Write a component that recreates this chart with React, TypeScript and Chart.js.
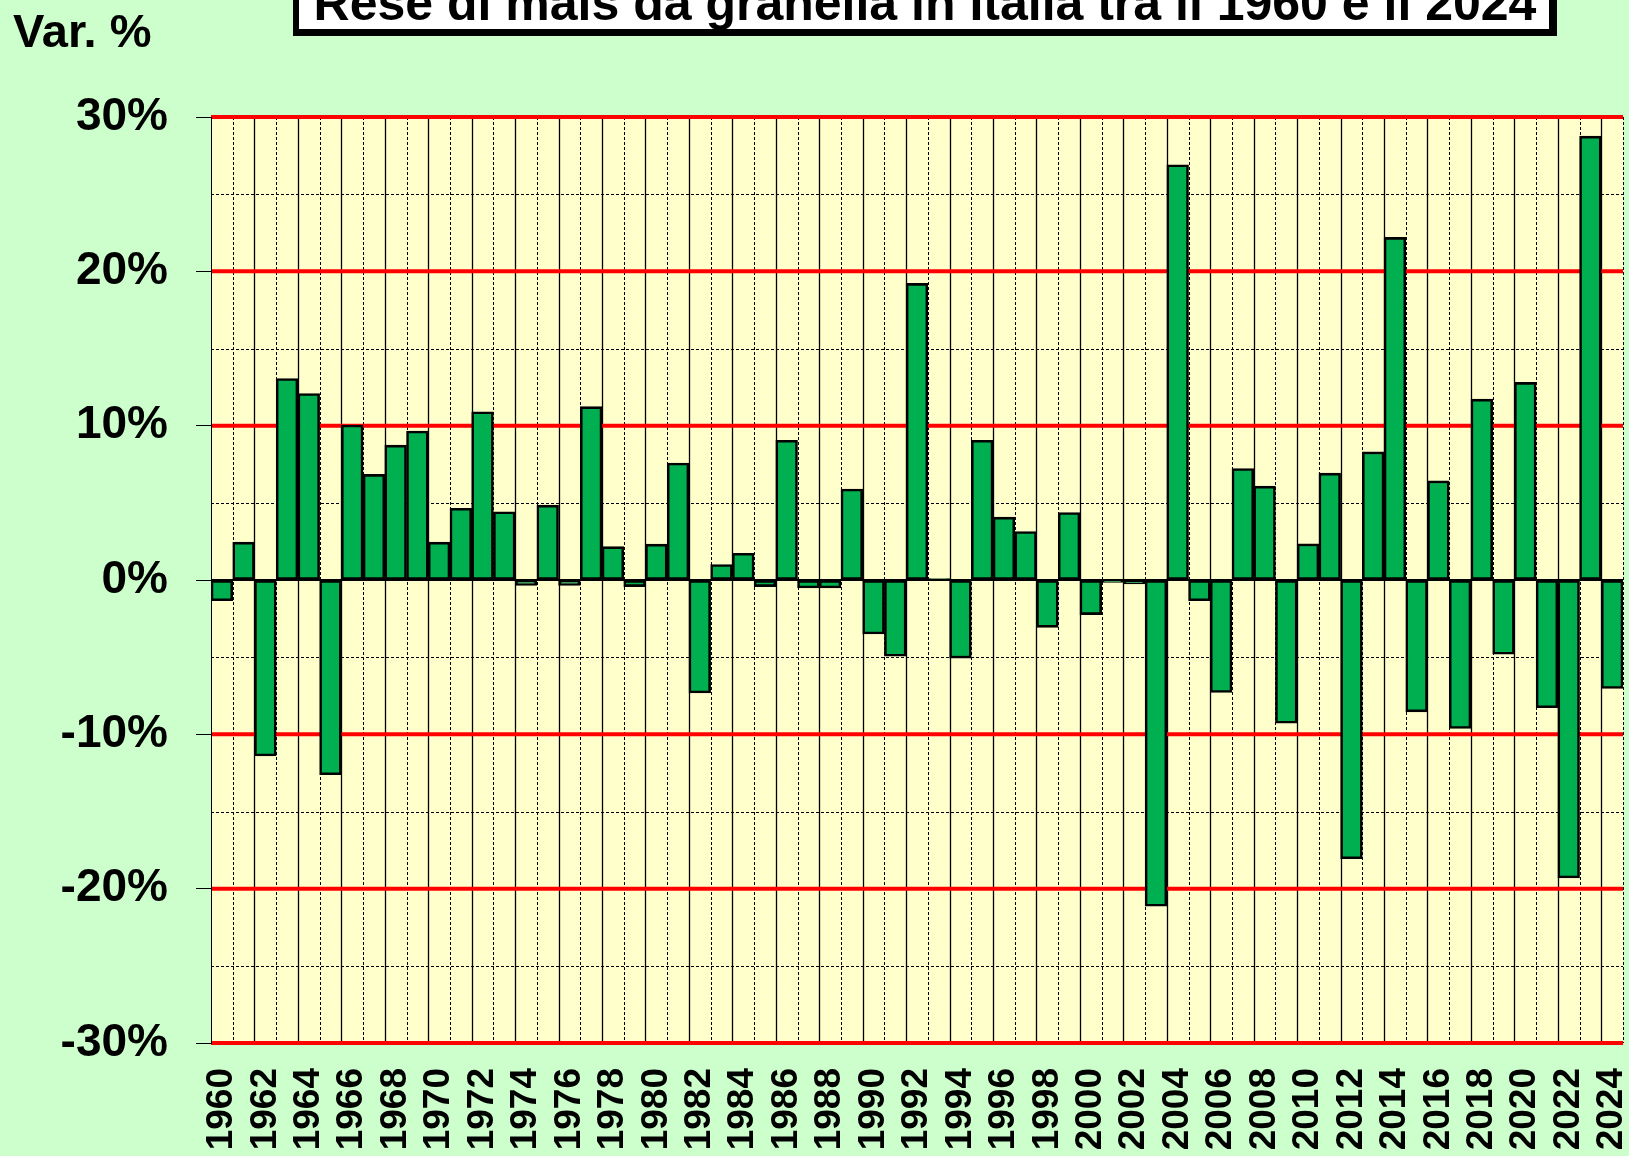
import React, { useEffect, useRef } from "react";
import { Chart, registerables } from "chart.js";

Chart.register(...registerables);

const years: string[] = [
  "1960","1961","1962","1963","1964","1965","1966","1967","1968","1969",
  "1970","1971","1972","1973","1974","1975","1976","1977","1978","1979",
  "1980","1981","1982","1983","1984","1985","1986","1987","1988","1989",
  "1990","1991","1992","1993","1994","1995","1996","1997","1998","1999",
  "2000","2001","2002","2003","2004","2005","2006","2007","2008","2009",
  "2010","2011","2012","2013","2014","2015","2016","2017","2018","2019",
  "2020","2021","2022","2023","2024",
];

// Annual % change of grain-maize yields
const variation: number[] = [
  -1.34, 2.45, -11.4, 13.05, 12.08, -12.62, 10.04, 6.84, 8.74, 9.65,
  2.45, 4.65, 10.9, 4.42, -0.35, 4.85, -0.35, 11.23, 2.16, -0.43,
  2.32, 7.58, -7.32, 1.0, 1.73, -0.43, 9.05, -0.52, -0.52, 5.89,
  -3.5, -4.94, 19.22, 0.1, -5.06, 9.05, 4.07, 3.14, -3.07, 4.37,
  -2.24, -0.16, -0.26, -21.14, 26.9, -1.34, -7.29, 7.22, 6.08, -9.28,
  2.34, 6.92, -18.06, 8.3, 22.2, -8.54, 6.42, -9.62, 11.72, -4.81,
  12.8, -8.28, -19.31, 28.76, -7.03,
];

const yTicks: number[] = [-30, -20, -10, 0, 10, 20, 30];
const yMinorLines: number[] = [-25, -15, -5, 5, 15, 25];

const TITLE = "Rese di mais da granella in Italia tra il 1960 e il 2024";
const Y_TITLE = "Var. %";
const FONT = '"Liberation Sans", Arial, sans-serif';

const decorPlugin = {
  id: "decor",
  beforeDraw(chart: any) {
    const { ctx, chartArea, scales } = chart;
    const x = scales.x;
    const y = scales.y;
    ctx.save();
    ctx.fillStyle = "#CCFFCC";
    ctx.fillRect(0, 0, chart.width, chart.height);
    ctx.fillStyle = "#FFFFCC";
    ctx.fillRect(chartArea.left, chartArea.top, chartArea.right - chartArea.left, chartArea.bottom - chartArea.top);

    // vertical lines at category boundaries
    for (let i = 1; i <= years.length; i++) {
      const px = Math.round(x.getPixelForValue(i - 0.5)) + 0.5;
      ctx.beginPath();
      ctx.lineWidth = i % 2 === 0 ? 1.3 : 1;
      ctx.strokeStyle = "#000";
      ctx.setLineDash(i % 2 === 0 ? [] : [3, 2]);
      ctx.moveTo(px, chartArea.top);
      ctx.lineTo(px, chartArea.bottom);
      ctx.stroke();
    }
    // minor horizontal dashed lines
    ctx.lineWidth = 1;
    ctx.setLineDash([3, 2]);
    for (const v of yMinorLines) {
      const py = Math.round(y.getPixelForValue(v)) + 0.5;
      ctx.beginPath();
      ctx.moveTo(chartArea.left, py);
      ctx.lineTo(chartArea.right, py);
      ctx.stroke();
    }
    ctx.setLineDash([]);
    // red major lines
    ctx.strokeStyle = "#FF0000";
    ctx.lineWidth = 4;
    for (const v of yTicks) {
      if (v === 0) continue;
      const py = y.getPixelForValue(v);
      ctx.beginPath();
      ctx.moveTo(chartArea.left, py);
      ctx.lineTo(chartArea.right, py);
      ctx.stroke();
    }
    ctx.restore();
  },
  afterDatasetsDraw(chart: any) {
    const { ctx, chartArea, scales } = chart;
    const py = scales.y.getPixelForValue(0);
    ctx.save();
    ctx.strokeStyle = "#000";
    ctx.lineWidth = 2;
    ctx.beginPath();
    ctx.moveTo(chartArea.left, py);
    ctx.lineTo(chartArea.right, py);
    ctx.stroke();
    ctx.restore();
  },
  afterDraw(chart: any) {
    const { ctx } = chart;
    ctx.save();
    // title box with shadow
    ctx.fillStyle = "#000";
    ctx.fillRect(293, -20, 1264, 56);
    ctx.fillStyle = "#FFFFFF";
    ctx.fillRect(299, -20, 1250, 49);
    ctx.fillStyle = "#000";
    ctx.font = `bold 50px ${FONT}`;
    ctx.textAlign = "center";
    ctx.textBaseline = "alphabetic";
    ctx.fillText(TITLE, 925, 20);
    // y-axis title
    ctx.font = `bold 47px ${FONT}`;
    ctx.textAlign = "left";
    ctx.fillText(Y_TITLE, 13, 47);
    ctx.restore();
  },
};

export default function App() {
  const ref = useRef<HTMLCanvasElement | null>(null);

  useEffect(() => {
    if (!ref.current) return;
    const chart = new Chart(ref.current, {
      type: "bar",
      data: {
        labels: years,
        datasets: [
          {
            data: variation,
            backgroundColor: "#00B050",
            borderColor: "#000000",
            borderWidth: 2.6,
            borderSkipped: false,
            categoryPercentage: 1,
            barPercentage: 1,
          },
        ],
      },
      options: {
        animation: false,
        responsive: false,
        devicePixelRatio: 1,
        layout: { padding: { top: 117, right: 6, bottom: 0, left: 0 } },
        plugins: {
          legend: { display: false },
          title: { display: false },
          tooltip: { enabled: false },
        },
        scales: {
          x: {
            type: "category",
            offset: true,
            grid: { display: false, drawTicks: false },
            border: { display: false },
            ticks: {
              autoSkip: false,
              minRotation: 90,
              maxRotation: 90,
              padding: 25,
              color: "#000",
              font: { family: FONT, size: 37, weight: "bold" },
              callback: (_v: any, i: number) => (i % 2 === 0 ? years[i] : ""),
            },
            afterFit: (s: any) => {
              s.height = 113;
              s.paddingLeft = 0;
              s.paddingRight = 0;
            },
          },
          y: {
            min: -30,
            max: 30,
            grid: {
              drawOnChartArea: false,
              drawTicks: true,
              tickLength: 15,
              color: "#000",
              lineWidth: 1,
            },
            border: { display: true, color: "#000", width: 1 },
            ticks: {
              stepSize: 10,
              padding: 28,
              color: "#000",
              font: { family: FONT, size: 46, weight: "bold" },
              callback: (v: any) => `${v}%`,
            },
            afterFit: (s: any) => {
              s.width = 211;
            },
          },
        },
      },
      plugins: [decorPlugin],
    });
    return () => chart.destroy();
  }, []);

  return (
    <div style={{ position: "absolute", left: 0, top: 0, width: 1629, height: 1156 }}>
      <canvas ref={ref} width={1629} height={1156} style={{ display: "block" }} />
    </div>
  );
}
